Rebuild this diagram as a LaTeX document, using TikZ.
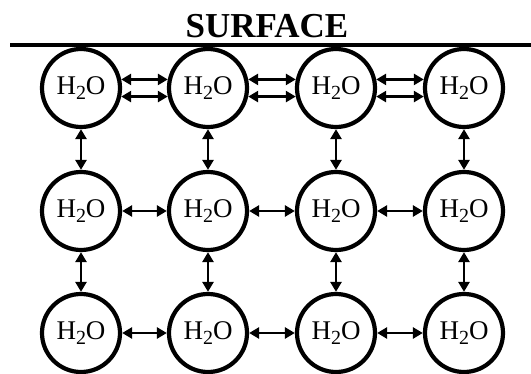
\documentclass[tikz,border=0pt]{standalone}
\usepackage{fontspec}
\setmainfont{Liberation Serif}
\usetikzlibrary{arrows.meta}
\tikzset{
  mol/.style={circle, draw=black, line width=4.2pt, minimum size=78pt, inner sep=0pt, font=\fontsize{27pt}{29pt}\selectfont},
  link/.style={line width=2.8pt, {Triangle[length=10pt,width=11pt]}-{Triangle[length=10pt,width=11pt]}},
  surf/.style={line width=3.5pt}
}
\newcommand{\water}{H\raisebox{-5pt}{\fontsize{20pt}{22pt}\selectfont 2}O}
\begin{document}
\begin{tikzpicture}[x=1pt,y=-1pt]
\useasboundingbox (0,0) rectangle (531,374);
\node[font=\fontsize{35pt}{38pt}\selectfont\bfseries, anchor=base] (title) at (267,38) {SURFACE};
\draw[surf] (10,45) -- (531,45);
% row 1
\node[mol] (a1) at (81,88) {\water};
\node[mol] (a2) at (208,88) {\water};
\node[mol] (a3) at (336,88) {\water};
\node[mol] (a4) at (464,88) {\water};
% row 2
\node[mol] (b1) at (81,211) {\water};
\node[mol] (b2) at (208,211) {\water};
\node[mol] (b3) at (336,211) {\water};
\node[mol] (b4) at (464,211) {\water};
% row 3
\node[mol] (c1) at (81,333) {\water};
\node[mol] (c2) at (208,333) {\water};
\node[mol] (c3) at (336,333) {\water};
\node[mol] (c4) at (464,333) {\water};
% row 1 double links
\foreach \l/\r in {a1/a2,a2/a3,a3/a4}{
  \draw[link] (\l.12) -- (\r.168);
  \draw[link] (\l.-12) -- (\r.-168);
}
% horizontal links rows 2,3
\foreach \l/\r in {b1/b2,b2/b3,b3/b4,c1/c2,c2/c3,c3/c4}{
  \draw[link] (\l.east) -- (\r.west);
}
% vertical links
\foreach \t/\b in {a1/b1,a2/b2,a3/b3,a4/b4,b1/c1,b2/c2,b3/c3,b4/c4}{
  \draw[link] (\t.south) -- (\b.north);
}
\end{tikzpicture}
\end{document}
